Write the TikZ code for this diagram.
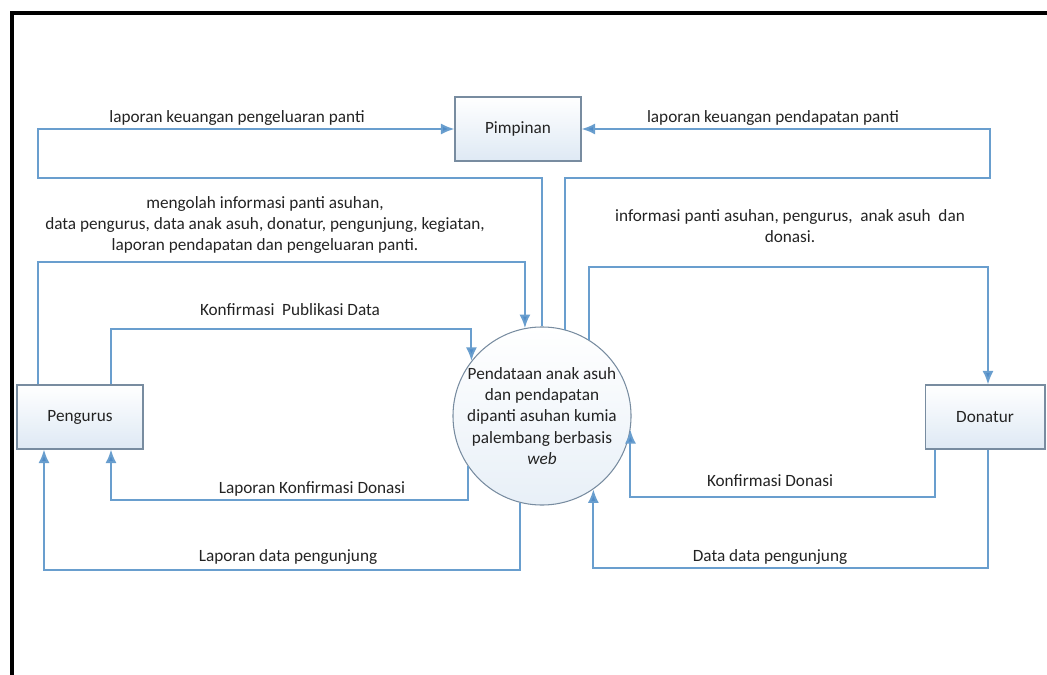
\documentclass[tikz,border=0pt]{standalone}
\usepackage{fontspec}
\setmainfont{Carlito}
\usetikzlibrary{positioning, arrows.meta}
\definecolor{flowblue}{RGB}{105,158,206}
\definecolor{tipblue}{RGB}{80,140,200}
\definecolor{boxline}{RGB}{120,140,160}
\definecolor{boxfill}{RGB}{222,233,244}
\definecolor{textgray}{RGB}{35,35,35}

\begin{document}
\begin{tikzpicture}[x=0.02cm, y=-0.02cm, -{Latex[length=0.27cm, width=0.22cm, fill=tipblue]}, semithick,
                entity/.style ={rectangle, draw=boxline, top color=white, bottom color=boxfill,
                minimum width=2.52cm, minimum height=1.28cm, text=textgray, font=\fontsize{9.8}{12}\selectfont},
                proc/.style ={circle, draw=boxline, top color=white, bottom color=boxfill!70,
                minimum size=3.48cm, inner sep=0pt, align=center, text=textgray, font=\fontsize{9.8}{12}\selectfont},
                flow/.style ={draw=flowblue, line width=1.1pt},
                lbl/.style ={text=textgray, align=center, inner sep=0pt, font=\fontsize{9.8}{12}\selectfont}]

            \useasboundingbox (0,0) rectangle (1047,675);
            \draw[-, line width=0.08cm] (12,675) -- (12,13) -- (1047,13);

            %entidades y proceso
            \node[entity] (pim) at (518,129) {Pimpinan};
            \node[entity] (peng) at (80,417) {Pengurus};
            \node[entity, minimum width=2.4cm] (don) at (985,417) {Donatur};
            \node[proc] (proc) at (542,416) {Pendataan anak asuh\\ dan pendapatan\\ dipanti asuhan kumia\\ palembang berbasis\\ \textit{web}};

            %esquinas de las lineas
            \coordinate (k1) at (38,178);
            \coordinate (k2) at (990,178);
            \coordinate (k3) at (38,262);
            \coordinate (k4) at (111,329);
            \coordinate (k5) at (988,267);
            \coordinate (k6) at (111,500);
            \coordinate (k7) at (44,570);
            \coordinate (k8) at (935,497);
            \coordinate (k9) at (988,568);

            \draw[flow] (proc.90) |- (k1) |- (pim.west);
            \draw[flow] (proc.75) |- (k2) |- (pim.east);
            \draw[flow] (peng.north -| k3) -- (k3) -| (proc.101);
            \draw[flow] (peng.north -| k4) -- (k4) -| (proc.142);
            \draw[flow] (proc.58) |- (k5) -- (don.north -| k5);
            \draw[flow] (proc.214) |- (k6) -- (peng.south -| k6);
            \draw[flow] (proc.256) |- (k7) -- (peng.south -| k7);
            \draw[flow] (don.south -| k8) -- (k8) -| (proc.351);
            \draw[flow] (don.south -| k9) -- (k9) -| (proc.305);

            %etiquetas
            \node[lbl] (t1) at (237,118) {laporan keuangan pengeluaran panti};
            \node[lbl] (t2) at (773,118) {laporan keuangan pendapatan panti};
            \node[lbl] (t3) at (265,225) {mengolah informasi panti asuhan,\\ data pengurus, data anak asuh, donatur, pengunjung, kegiatan,\\ laporan pendapatan dan pengeluaran panti.};
            \node[lbl] (t4) at (790,226) {informasi panti asuhan, pengurus,\ \ anak asuh\ \ dan\\ donasi.};
            \node[lbl] (t5) at (290,310) {Konfirmasi\ \ Publikasi Data};
            \node[lbl] (t6) at (312,489) {Laporan Konfirmasi Donasi};
            \node[lbl] (t7) at (288,557) {Laporan data pengunjung};
            \node[lbl] (t8) at (770,481) {Konfirmasi Donasi};
            \node[lbl] (t9) at (770,557) {Data data pengunjung};
    \end{tikzpicture}
\end{document}
